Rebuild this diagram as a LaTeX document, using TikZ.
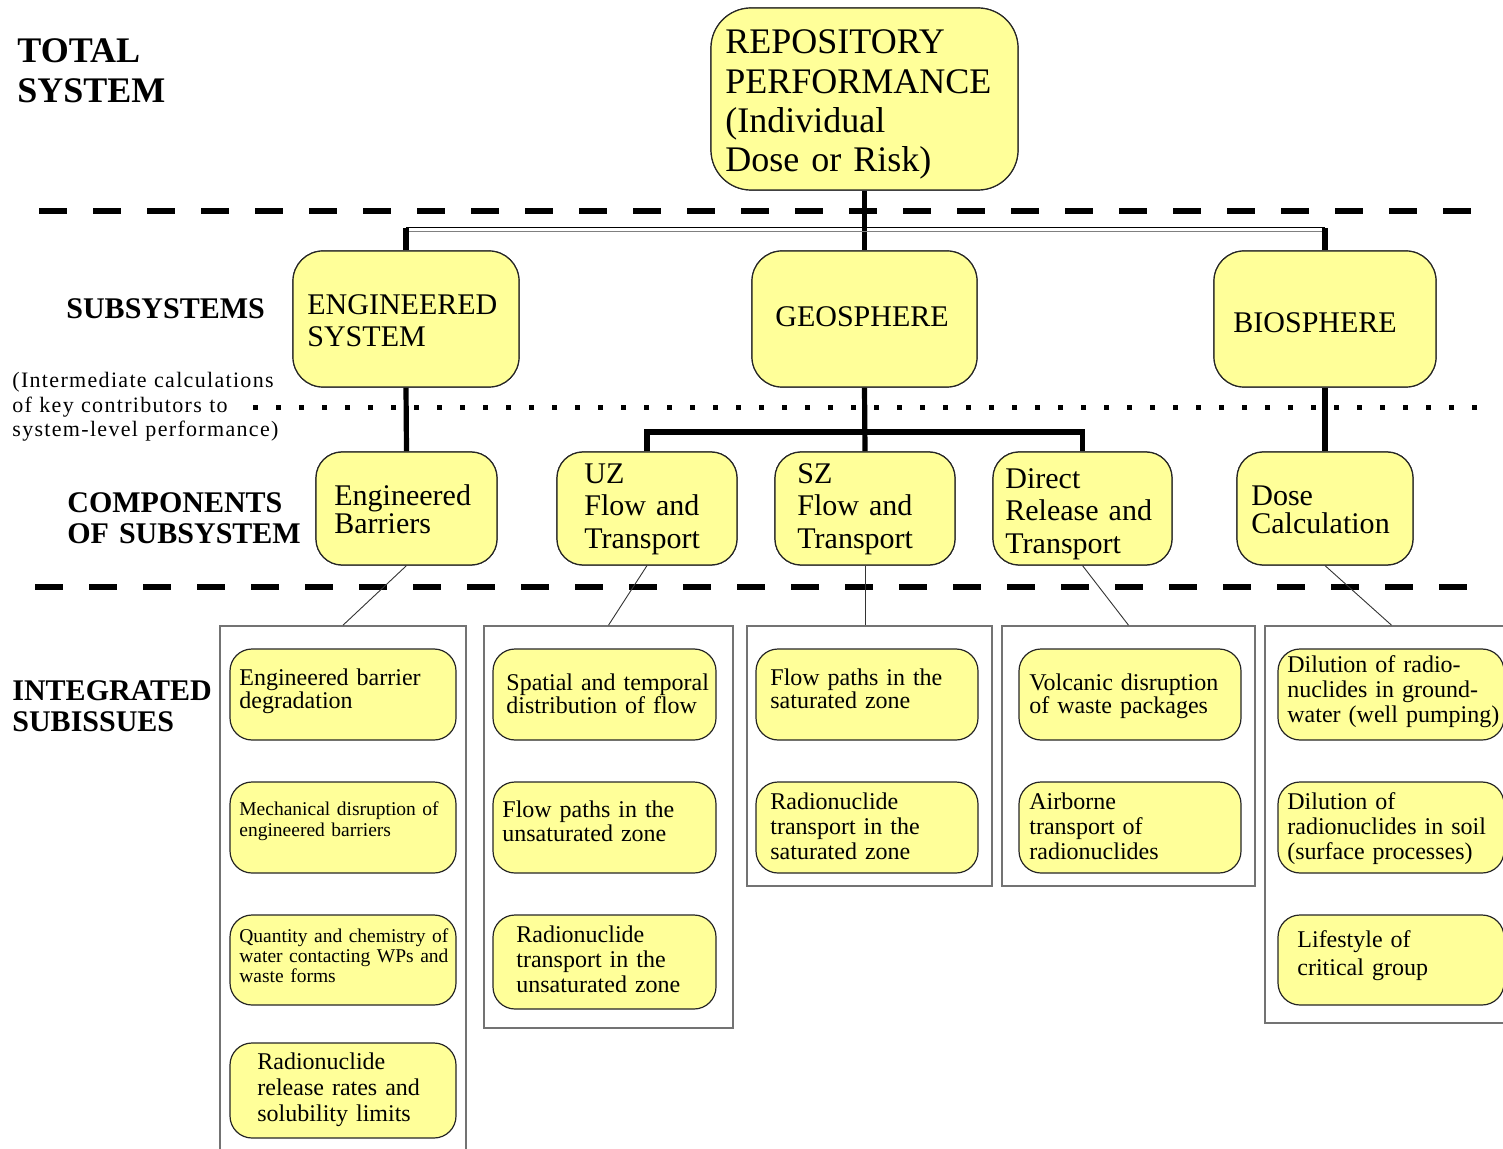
\documentclass[tikz,border=0pt]{standalone}
\usepackage{fontspec}
\setmainfont{Liberation Serif}
\definecolor{yel}{HTML}{FFFF99}
\begin{document}
\begin{tikzpicture}[x=0.5pt,y=-0.5pt,
  ybox/.style={draw=black!85,line width=0.6pt,fill=yel,inner sep=0pt},
  cont/.style={draw=black!55,line width=0.8pt,inner sep=0pt},
  conn/.style={line width=2.6pt},
  thinc/.style={line width=0.45pt,black!80},
  sepline/.style={line width=2.6pt,dash pattern=on 14pt off 13pt},
  dotline/.style={line width=2.5pt,dash pattern=on 2.5pt off 9pt},
  txt/.style={anchor=base west,inner sep=0pt,text width=220pt,align=left},
  lab/.style={txt,font=\bfseries\fontsize{15}{15.5}\selectfont},
  big/.style={txt,font=\fontsize{18}{19.65}\selectfont},
  sub/.style={txt,font=\fontsize{15}{16}\selectfont},
  comp/.style={txt,font=\fontsize{15}{#1}\selectfont},
  st/.style={txt,font=\fontsize{12}{#1}\selectfont},
  sts/.style={txt,font=\fontsize{9.75}{#1}\selectfont}
]
\useasboundingbox (0,0) rectangle (1503,1149);

% separators
\coordinate (d1a) at (39,211); \coordinate (d1b) at (1490,211);
\coordinate (d2a) at (35,587); \coordinate (d2b) at (1490,587);
\coordinate (p1a) at (253,408); \coordinate (p1b) at (1490,408);
\draw[sepline] (d1a) -- (d1b);
\draw[sepline] (d2a) -- (d2b);
\draw[dotline] (p1a) -- (p1b);

% left labels
\node[txt,font=\bfseries\fontsize{18}{20}\selectfont] (ltot) at (17,63) {TOTAL\\SYSTEM};
\node[lab] (lsub) at (66,319) {SUBSYSTEMS};
\node[txt,font=\fontsize{11}{12.25}\selectfont\addfontfeatures{LetterSpace=6}] (lint) at (12,388)
  {(Intermediate calculations\\of key contributors to\\system-level performance)};
\node[lab] (lcomp) at (67,512) {COMPONENTS\\OF SUBSYSTEM};
\node[lab] (lintg) at (12,700) {INTEGRATED\\SUBISSUES};

% main boxes
\node[ybox,rounded corners=20pt,minimum width=153.5pt,minimum height=91pt] (repo) at (864.5,99) {};
\node[ybox,rounded corners=15pt,minimum width=113pt,minimum height=68pt] (eng) at (406,319) {};
\node[ybox,rounded corners=15pt,minimum width=112.5pt,minimum height=68pt] (geo) at (864.5,319) {};
\node[ybox,rounded corners=15pt,minimum width=111pt,minimum height=68pt] (bio) at (1325,319) {};

\node[ybox,rounded corners=13pt,minimum width=90.5pt,minimum height=56.5pt] (eb) at (406.5,508.5) {};
\node[ybox,rounded corners=13pt,minimum width=90pt,minimum height=56.5pt] (uz) at (647,508.5) {};
\node[ybox,rounded corners=13pt,minimum width=90pt,minimum height=56.5pt] (sz) at (865,508.5) {};
\node[ybox,rounded corners=13pt,minimum width=89.5pt,minimum height=56.5pt] (dr) at (1082.5,508.5) {};
\node[ybox,rounded corners=13pt,minimum width=88pt,minimum height=56.5pt] (dose) at (1325,508.5) {};

% containers
\node[cont,minimum width=123pt,minimum height=267pt] (c1) at (343,893) {};
\node[cont,minimum width=124.5pt,minimum height=201pt] (c2) at (608.5,827) {};
\node[cont,minimum width=122.5pt,minimum height=130pt] (c3) at (869.5,756) {};
\node[cont,minimum width=126.5pt,minimum height=130pt] (c4) at (1128.5,756) {};
\node[cont,minimum width=126.5pt,minimum height=198.5pt] (c5) at (1391.5,824.5) {};

% connectors
\coordinate (hl) at (0,228);
\coordinate (gl) at (0,432);
\draw[conn] (repo.south) -- (geo.north);
\draw[black,line width=0.5pt] (eng.north |- hl) -- (bio.north |- hl);
\draw[black!50,line width=0.9pt] ([yshift=-1.8pt]eng.north |- hl) -- ([yshift=-1.8pt]bio.north |- hl);
\draw[conn] (eng.north) -- (eng.north |- hl);
\draw[conn] (bio.north) -- (bio.north |- hl);
\draw[conn] (eng.south) -- (eb.north);
\draw[conn] (geo.south) -- (sz.north);
\draw[conn] (uz.north) -- (uz.north |- gl) -- (dr.north |- gl) -- (dr.north);
\draw[conn] (bio.south) -- (dose.north);

\draw[thinc] (eb.south) -- (c1.north);
\draw[thinc] (uz.south) -- (c2.north);
\draw[thinc] (sz.south) -- (sz.south |- c3.north);
\draw[thinc] (dr.south) -- (c4.north);
\draw[thinc] (dose.south) -- (c5.north);

% redraw box borders on top of connectors
\node[ybox,rounded corners=20pt,minimum width=153.5pt,minimum height=91pt] at (repo) {};
\node[ybox,rounded corners=15pt,minimum width=113pt,minimum height=68pt] at (eng) {};
\node[ybox,rounded corners=15pt,minimum width=112.5pt,minimum height=68pt] at (geo) {};
\node[ybox,rounded corners=15pt,minimum width=111pt,minimum height=68pt] at (bio) {};
\node[ybox,rounded corners=13pt,minimum width=90.5pt,minimum height=56.5pt] at (eb) {};
\node[ybox,rounded corners=13pt,minimum width=90pt,minimum height=56.5pt] at (uz) {};
\node[ybox,rounded corners=13pt,minimum width=90pt,minimum height=56.5pt] at (sz) {};
\node[ybox,rounded corners=13pt,minimum width=89.5pt,minimum height=56.5pt] at (dr) {};
\node[ybox,rounded corners=13pt,minimum width=88pt,minimum height=56.5pt] at (dose) {};

% main texts
\node[big] (repot) at (725,54) {REPOSITORY\\PERFORMANCE\\(Individual\\Dose or Risk)};
\node[sub] (engt) at (307,315) {ENGINEERED\\SYSTEM};
\node[sub] (geot) at (775,327) {GEOSPHERE};
\node[sub] (biot) at (1233,333) {BIOSPHERE};
\node[comp=14] (ebt) at (334,505) {Engineered\\Barriers};
\node[comp=16.25] (uzt) at (584,483) {UZ\\Flow and\\Transport};
\node[comp=16.25] (szt) at (797,483) {SZ\\Flow and\\Transport};
\node[comp=16.25] (drt) at (1005,488) {Direct\\Release and\\Transport};
\node[comp=14] (doset) at (1251,505) {Dose\\Calculation};

% sub-issue boxes
\node[ybox,rounded corners=11pt,minimum width=113pt,minimum height=45.5pt] (a1) at (343,694.5) {};
\node[ybox,rounded corners=11pt,minimum width=113pt,minimum height=45.5pt] (a2) at (343,827.5) {};
\node[ybox,rounded corners=11pt,minimum width=113pt,minimum height=45pt] (a3) at (343,960) {};
\node[ybox,rounded corners=11pt,minimum width=113pt,minimum height=47.5pt] (a4) at (343,1090.5) {};

\node[ybox,rounded corners=11pt,minimum width=111.5pt,minimum height=45.5pt] (b1) at (604.5,694.5) {};
\node[ybox,rounded corners=11pt,minimum width=111.5pt,minimum height=45.5pt] (b2) at (604.5,827.5) {};
\node[ybox,rounded corners=11pt,minimum width=111.5pt,minimum height=47pt] (b3) at (604.5,962) {};

\node[ybox,rounded corners=11pt,minimum width=111pt,minimum height=45.5pt] (e1) at (867,694.5) {};
\node[ybox,rounded corners=11pt,minimum width=111pt,minimum height=45.5pt] (e2) at (867,827.5) {};

\node[ybox,rounded corners=11pt,minimum width=111pt,minimum height=45.5pt] (f1) at (1130,694.5) {};
\node[ybox,rounded corners=11pt,minimum width=111pt,minimum height=45.5pt] (f2) at (1130,827.5) {};

\node[ybox,rounded corners=11pt,minimum width=113pt,minimum height=45.5pt] (g1) at (1391,694.5) {};
\node[ybox,rounded corners=11pt,minimum width=113pt,minimum height=45.5pt] (g2) at (1391,827.5) {};
\node[ybox,rounded corners=11pt,minimum width=113pt,minimum height=45pt] (g3) at (1391,960) {};

% sub-issue texts
\node[st=11.5] (a1t) at (239,685) {Engineered barrier\\degradation};
\node[sts=10.5] (a2t) at (239,815) {Mechanical disruption of\\engineered barriers};
\node[sts=10] (a3t) at (239,942) {Quantity and chemistry of\\water contacting WPs and\\waste forms};
\node[st=13] (a4t) at (257,1069) {Radionuclide\\release rates and\\solubility limits};

\node[st=11.5] (b1t) at (506,690) {Spatial and temporal\\distribution of flow};
\node[st=12] (b2t) at (502,817) {Flow paths in the\\unsaturated zone};
\node[st=12.5] (b3t) at (516,942) {Radionuclide\\transport in the\\unsaturated zone};

\node[st=11.5] (e1t) at (770,685) {Flow paths in the\\saturated zone};
\node[st=12.5] (e2t) at (770,809) {Radionuclide\\transport in the\\saturated zone};

\node[st=11.5] (f1t) at (1029,690) {Volcanic disruption\\of waste packages};
\node[st=12.5] (f2t) at (1029,809) {Airborne\\transport of\\radionuclides};

\node[st=12.5] (g1t) at (1287,672) {Dilution of radio-\\nuclides in ground-\\water (well pumping)};
\node[st=12.5] (g2t) at (1287,809) {Dilution of\\radionuclides in soil\\(surface processes)};
\node[st=14] (g3t) at (1297,947) {Lifestyle of\\critical group};
\end{tikzpicture}
\end{document}
